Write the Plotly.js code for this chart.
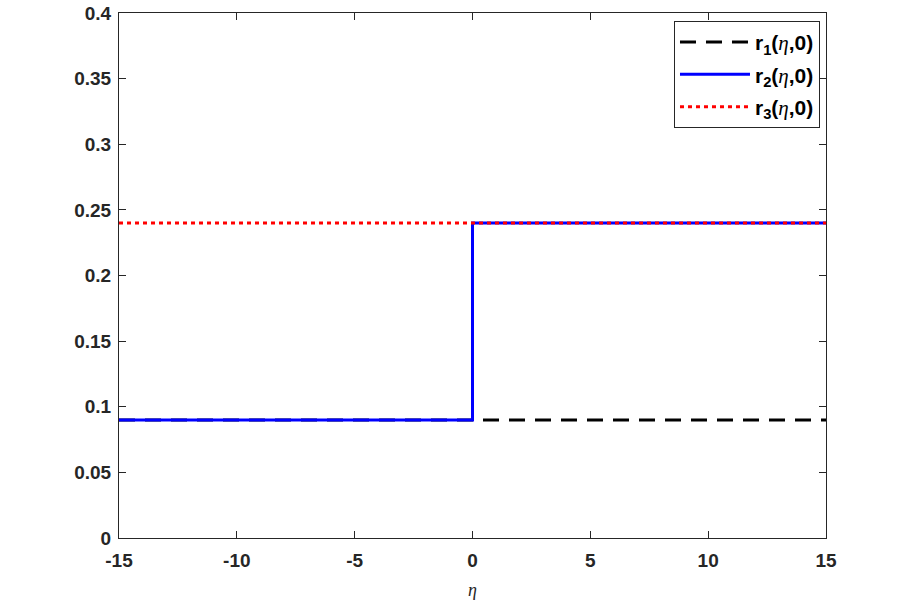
<!DOCTYPE html>
<html>
<head>
<meta charset="utf-8">
<script src="https://cdn.plot.ly/plotly-3.0.1.min.js"></script>
<style>html,body{margin:0;padding:0;background:#fff;}</style>
</head>
<body>
<div id="chart" style="width:914px;height:604px;"></div>
<script>
// Data
const r1X = [-15, 15];
const r1Y = [0.09, 0.09];
const r2X = [-15, 0, 0, 15];
const r2Y = [0.09, 0.09, 0.24, 0.24];
const r3X = [-15, 15];
const r3Y = [0.24, 0.24];
const xTicks = [-15, -10, -5, 0, 5, 10, 15];
const yTicks = [0, 0.05, 0.1, 0.15, 0.2, 0.25, 0.3, 0.35, 0.4];
const etaSpan = '<span style="font-family:\'Liberation Serif\';font-style:italic;font-weight:normal">η</span>';
const names = [
  '<b>r<sub>1</sub>(</b>' + etaSpan + '<b>,0)</b>',
  '<b>r<sub>2</sub>(</b>' + etaSpan + '<b>,0)</b>',
  '<b>r<sub>3</sub>(</b>' + etaSpan + '<b>,0)</b>'
];

const traces = [
  {x: r1X, y: r1Y, mode: 'lines', name: names[0], legendgroup: 'g1', line: {color: '#000000', width: 3, dash: '16px,10px'}},
  {x: r2X, y: r2Y, mode: 'lines', name: names[1], legendgroup: 'g2', line: {color: '#0000ff', width: 3}},
  {x: r3X, y: r3Y, mode: 'lines', name: names[2], legendgroup: 'g3', line: {color: '#ff0000', width: 3, dash: '4px,4px'}}
];

const axisCommon = {
  showline: true, mirror: 'ticks', linecolor: '#262626', linewidth: 1,
  ticks: 'inside', ticklen: 7, tickcolor: '#262626', tickwidth: 1,
  showgrid: false, zeroline: false,
  tickfont: {family: 'Arial, Liberation Sans, sans-serif', size: 19, color: '#262626', weight: 'bold'}
};

const layout = {
  width: 914, height: 604,
  margin: {l: 119, r: 88, t: 13, b: 66},
  paper_bgcolor: '#ffffff', plot_bgcolor: '#ffffff',
  showlegend: true,
  xaxis: Object.assign({}, axisCommon, {
    range: [-15, 15], tickvals: xTicks, ticktext: xTicks.map(String),
    ticklabelstandoff: 5,
    title: {text: '<i>η</i>', font: {family: 'Liberation Serif, serif', size: 18, color: '#262626'}, standoff: 13}
  }),
  yaxis: Object.assign({}, axisCommon, {
    range: [0, 0.4], tickvals: yTicks, ticktext: yTicks.map(v => String(v)),
    ticklabelstandoff: 3
  }),
  legend: {
    x: 0.9915, y: 0.985, xanchor: 'right', yanchor: 'top',
    bgcolor: '#ffffff', bordercolor: '#262626', borderwidth: 1,
    font: {family: 'Arial, Liberation Sans, sans-serif', size: 21, color: '#000000'},
    tracegroupgap: 2, itemwidth: 70
  }
};

Plotly.newPlot('chart', traces, layout, {displayModeBar: false, staticPlot: true});
</script>
</body>
</html>
